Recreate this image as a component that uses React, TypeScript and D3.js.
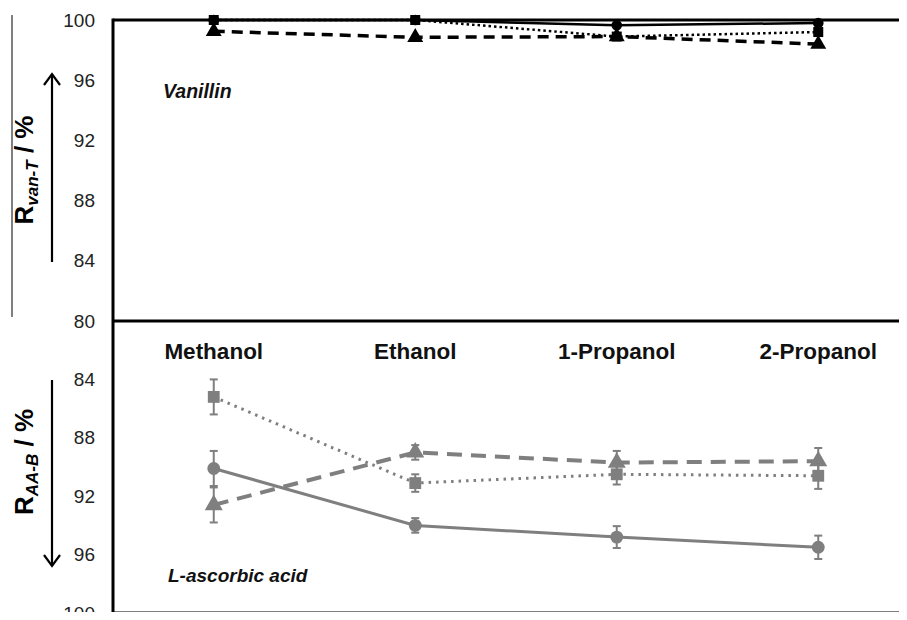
import * as d3 from "d3";
import { useEffect, useRef } from "react";

const categories = ["Methanol", "Ethanol", "1-Propanol", "2-Propanol"];

// vanillin (top panel, black)
const vanCircle = [100, 100, 99.65, 99.8];
const vanSquare = [100, 100, 98.9, 99.2];
const vanTriangle = [99.25, 98.85, 98.9, 98.4];

// L-ascorbic acid (bottom panel, grey, reversed axis)
const aaCircle = [90.1, 94.0, 94.8, 95.5];
const aaCircleErr = [1.2, 0.5, 0.75, 0.8];
const aaSquare = [85.2, 91.1, 90.5, 90.6];
const aaSquareErr = [1.2, 0.6, 0.7, 0.9];
const aaTriangle = [92.6, 89.0, 89.7, 89.6];
const aaTriangleErr = [1.2, 0.5, 0.8, 0.9];

const topTicks = [80, 84, 88, 92, 96, 100];
const bottomTicks = [84, 88, 92, 96, 100];

const App = () => {
  const ref = useRef<SVGSVGElement>(null);

  useEffect(() => {
    const svg = d3.select(ref.current);
    svg.selectAll("*").remove();

    const left = 113;
    const x = d3.scalePoint().domain(categories).range([left, 919]).padding(0.5);
    const yTop = d3.scaleLinear().domain([80, 100]).range([321, 20]);
    const yBot = d3.scaleLinear().domain([80, 100]).range([321, 613]);

    // axes (labels only)
    const styleAxis = (g: any) => {
      g.select(".domain").remove();
      g.selectAll("text")
        .attr("font-family", "Liberation Sans, Arial, sans-serif")
        .attr("font-size", 19)
        .attr("fill", "#222");
    };
    svg.append("g")
      .attr("transform", `translate(${left},0)`)
      .call(d3.axisLeft(yTop).tickValues(topTicks).tickSize(0).tickPadding(18))
      .call(styleAxis);
    svg.append("g")
      .attr("transform", `translate(${left},0)`)
      .call(d3.axisLeft(yBot).tickValues(bottomTicks).tickSize(0).tickPadding(18))
      .call(styleAxis);

    // thin line at far left
    svg.append("line").attr("x1", 12).attr("x2", 12).attr("y1", 15).attr("y2", 317)
      .attr("stroke", "#000").attr("stroke-width", 1);

    // arrows
    const arrow = (x0: number, y0: number, y1: number) => {
      const dir = y1 < y0 ? 1 : -1;
      svg.append("line").attr("x1", x0).attr("x2", x0).attr("y1", y0).attr("y2", y1)
        .attr("stroke", "#000").attr("stroke-width", 2.2);
      svg.append("path")
        .attr("d", `M${x0 - 8},${y1 + dir * 11} L${x0},${y1} L${x0 + 8},${y1 + dir * 11}`)
        .attr("fill", "none").attr("stroke", "#000").attr("stroke-width", 2.2);
    };
    arrow(52, 262, 74);
    arrow(52, 380, 566);

    // axis titles
    const title = (cy: number, sub: string) => {
      const t = svg.append("text")
        .attr("transform", `translate(33,${cy}) rotate(-90)`)
        .attr("text-anchor", "middle")
        .attr("font-family", "Liberation Sans, Arial, sans-serif")
        .attr("font-weight", "bold")
        .attr("font-size", 26)
        .attr("fill", "#000");
      t.append("tspan").text("R");
      t.append("tspan").attr("font-size", 17).attr("font-style", "italic").attr("dy", 5).text(sub);
      t.append("tspan").attr("dy", -5).text(" / %");
    };
    title(170, "van-T");
    title(462, "AA-B");

    // frame
    const frame = "#000";
    svg.append("line").attr("x1", left).attr("x2", 907).attr("y1", 20).attr("y2", 20)
      .attr("stroke", frame).attr("stroke-width", 3);
    svg.append("line").attr("x1", left).attr("x2", 907).attr("y1", 321).attr("y2", 321)
      .attr("stroke", frame).attr("stroke-width", 3);
    svg.append("line").attr("x1", left).attr("x2", 907).attr("y1", 613).attr("y2", 613)
      .attr("stroke", frame).attr("stroke-width", 3);
    svg.append("line").attr("x1", left).attr("x2", left).attr("y1", 18.5).attr("y2", 614.5)
      .attr("stroke", frame).attr("stroke-width", 3);

    // category labels
    svg.append("g").selectAll("text").data(categories).join("text")
      .attr("x", d => x(d)!)
      .attr("y", 359)
      .attr("text-anchor", "middle")
      .attr("font-family", "Liberation Sans, Arial, sans-serif")
      .attr("font-weight", "bold")
      .attr("font-size", 22.5)
      .attr("fill", "#111")
      .text(d => d);

    // panel labels
    svg.append("text").attr("x", 163).attr("y", 98)
      .attr("font-family", "Liberation Sans, Arial, sans-serif")
      .attr("font-weight", "bold").attr("font-style", "italic").attr("font-size", 19.5)
      .attr("fill", "#111").text("Vanillin");
    svg.append("text").attr("x", 168).attr("y", 582)
      .attr("font-family", "Liberation Sans, Arial, sans-serif")
      .attr("font-weight", "bold").attr("font-style", "italic").attr("font-size", 19)
      .attr("fill", "#111").text("L-ascorbic acid");

    const series = (
      vals: number[], errs: number[] | null, y: d3.ScaleLinear<number, number>,
      color: string, width: number, dash: string, shape: string, size: number
    ) => {
      const pts = vals.map((v, i) => ({ c: categories[i], v, e: errs ? errs[i] : 0 }));
      const line = d3.line<any>().x(d => x(d.c)!).y(d => y(d.v));
      svg.append("path").datum(pts).attr("d", line)
        .attr("fill", "none").attr("stroke", color).attr("stroke-width", width)
        .attr("stroke-dasharray", dash);
      if (errs) {
        const g = svg.append("g").attr("stroke", color).attr("stroke-width", 2);
        pts.forEach(d => {
          const cx = x(d.c)!;
          const y1 = y(d.v - d.e), y2 = y(d.v + d.e);
          g.append("line").attr("x1", cx).attr("x2", cx).attr("y1", y1).attr("y2", y2);
          g.append("line").attr("x1", cx - 4).attr("x2", cx + 4).attr("y1", y1).attr("y2", y1);
          g.append("line").attr("x1", cx - 4).attr("x2", cx + 4).attr("y1", y2).attr("y2", y2);
        });
      }
      const sym = shape === "circle" ? d3.symbolCircle : shape === "square" ? d3.symbolSquare : d3.symbolTriangle;
      svg.append("g").selectAll("path").data(pts).join("path")
        .attr("transform", d => `translate(${x(d.c)},${y(d.v)})`)
        .attr("d", d3.symbol().type(sym).size(size)())
        .attr("fill", color);
    };

    const grey = "#7f7f7f";
    series(aaTriangle, aaTriangleErr, yBot, grey, 4, "15 9", "triangle", 140);
    series(aaSquare, aaSquareErr, yBot, grey, 3, "2.5 5", "square", 140);
    series(aaCircle, aaCircleErr, yBot, grey, 3, "", "circle", 130);

    series(vanTriangle, null, yTop, "#000", 3.5, "11 7", "triangle", 110);
    series(vanSquare, null, yTop, "#000", 2.5, "2.5 3", "square", 100);
    series(vanCircle, null, yTop, "#000", 2.5, "", "circle", 90);
  }, []);

  return (
    <svg ref={ref} width={907} height={620} style={{ display: "block", margin: "-8px" }} />
  );
};

export default App;
